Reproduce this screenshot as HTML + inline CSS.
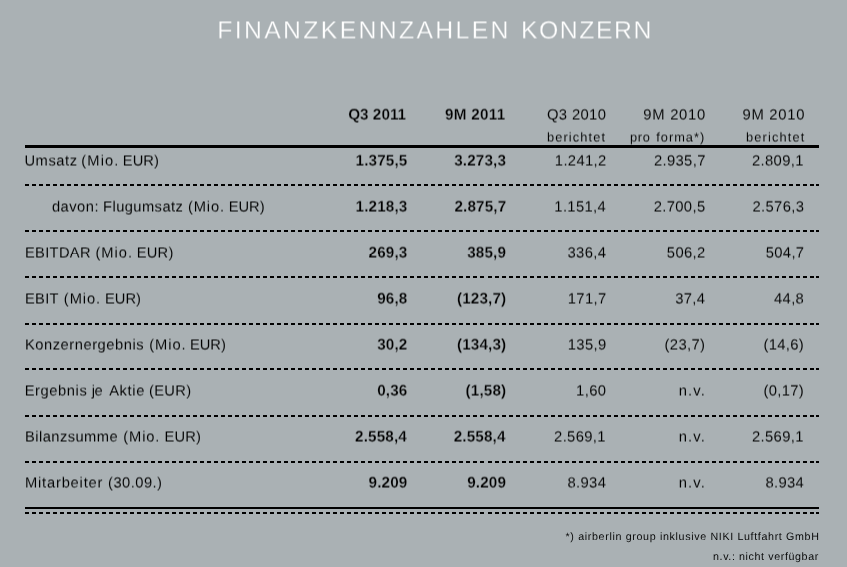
<!DOCTYPE html>
<html lang="de"><head><meta charset="utf-8"><title>Finanzkennzahlen Konzern</title>
<style>
html,body{margin:0;padding:0}
body{width:847px;height:567px;background:#aab1b4;position:relative;overflow:hidden;font-family:"Liberation Sans",sans-serif;color:#000000;text-rendering:geometricPrecision}
.t{position:absolute;white-space:nowrap;line-height:1;-webkit-text-stroke:0.06px #aab1b4}
.w{position:absolute;left:0;top:0;width:847px;height:567px;transform:translateY(-0.55px) rotateX(0.5deg)}
.ln{position:absolute;left:25px;width:794px;background:#000}
.dash{position:absolute;left:25px;width:794px;height:2px;background:linear-gradient(#000,#000) 791px 0/3px 2px no-repeat,repeating-linear-gradient(to right,#000 0,#000 4px,transparent 4px,transparent 7px) 0 0/459px 2px no-repeat,repeating-linear-gradient(to right,#000 0,#000 4px,transparent 4px,transparent 7px) 463px 0/326px 2px no-repeat}
</style></head><body>
<div class="ln" style="top:145px;height:3px"></div>
<div class="dash" style="top:184px"></div>
<div class="dash" style="top:230px"></div>
<div class="dash" style="top:276px"></div>
<div class="dash" style="top:323px"></div>
<div class="dash" style="top:368px"></div>
<div class="dash" style="top:415px"></div>
<div class="dash" style="top:461px"></div>
<div class="ln" style="top:507px;height:2px"></div>
<div class="dash" style="top:512px"></div>
<div class="w">
<div class="t" style="left:217.3px;top:20px;font-size:24.8px;letter-spacing:2.323px;-webkit-text-stroke-width:0.3px;color:#ffffff;">FINANZKENNZAHLEN</div>
<div class="t" style="left:520.9px;top:20px;font-size:24.8px;letter-spacing:1.558px;-webkit-text-stroke-width:0.3px;color:#ffffff;">KONZERN</div>
<div class="t" style="left:348.15px;top:108px;font-size:15.3px;letter-spacing:0.025px;font-weight:700;-webkit-text-stroke-width:0.25px;">Q3 2011</div>
<div class="t" style="left:445.1px;top:108px;font-size:15.3px;letter-spacing:0.242px;font-weight:700;-webkit-text-stroke-width:0.25px;">9M 2011</div>
<div class="t" style="left:546.95px;top:109px;font-size:14.8px;letter-spacing:0.367px;">Q3 2010</div>
<div class="t" style="left:643.35px;top:109px;font-size:14.8px;letter-spacing:0.708px;">9M 2010</div>
<div class="t" style="left:742.45px;top:109px;font-size:14.8px;letter-spacing:0.725px;">9M 2010</div>
<div class="t" style="left:546.95px;top:132px;font-size:12.8px;letter-spacing:1.131px;">berichtet</div>
<div class="t" style="left:629.95px;top:132px;font-size:12.8px;letter-spacing:0.725px;">pro</div>
<div class="t" style="left:656.15px;top:132px;font-size:12.8px;letter-spacing:1.033px;">forma*)</div>
<div class="t" style="left:746.05px;top:132px;font-size:12.8px;letter-spacing:1.156px;">berichtet</div>
<div class="t" style="left:24.45px;top:155px;font-size:14.7px;letter-spacing:0.57px;">Umsatz</div>
<div class="t" style="left:81.3px;top:155px;font-size:14.7px;letter-spacing:1.113px;">(Mio.</div>
<div class="t" style="left:122.85px;top:155px;font-size:14.7px;letter-spacing:0.017px;">EUR)</div>
<div class="t" style="left:355.58px;top:154px;font-size:15.3px;letter-spacing:0.12px;font-weight:700;-webkit-text-stroke-width:0.25px;">1.375,5</div>
<div class="t" style="left:454.18px;top:154px;font-size:15.3px;letter-spacing:0.12px;font-weight:700;-webkit-text-stroke-width:0.25px;">3.273,3</div>
<div class="t" style="left:554.8px;top:155px;font-size:14.8px;letter-spacing:0.35px;">1.241,2</div>
<div class="t" style="left:653.9px;top:155px;font-size:14.8px;letter-spacing:0.35px;">2.935,7</div>
<div class="t" style="left:751.95px;top:155px;font-size:14.8px;letter-spacing:0.35px;">2.809,1</div>
<div class="t" style="left:51.9px;top:201px;font-size:14.7px;letter-spacing:0.51px;">davon:</div>
<div class="t" style="left:103.05px;top:201px;font-size:14.7px;letter-spacing:0.433px;">Flugumsatz</div>
<div class="t" style="left:188.0px;top:201px;font-size:14.7px;letter-spacing:0.837px;">(Mio.</div>
<div class="t" style="left:228.75px;top:201px;font-size:14.7px;letter-spacing:-0.017px;">EUR)</div>
<div class="t" style="left:355.58px;top:200px;font-size:15.3px;letter-spacing:0.12px;font-weight:700;-webkit-text-stroke-width:0.25px;">1.218,3</div>
<div class="t" style="left:454.43px;top:200px;font-size:15.3px;letter-spacing:0.12px;font-weight:700;-webkit-text-stroke-width:0.25px;">2.875,7</div>
<div class="t" style="left:554.3px;top:201px;font-size:14.8px;letter-spacing:0.35px;">1.151,4</div>
<div class="t" style="left:653.65px;top:201px;font-size:14.8px;letter-spacing:0.35px;">2.700,5</div>
<div class="t" style="left:752.45px;top:201px;font-size:14.8px;letter-spacing:0.35px;">2.576,3</div>
<div class="t" style="left:24.95px;top:247px;font-size:14.7px;letter-spacing:0.325px;">EBITDAR</div>
<div class="t" style="left:95.5px;top:247px;font-size:14.7px;letter-spacing:0.962px;">(Mio.</div>
<div class="t" style="left:136.85px;top:247px;font-size:14.7px;letter-spacing:0.183px;">EUR)</div>
<div class="t" style="left:368.57px;top:246px;font-size:15.3px;letter-spacing:0.12px;font-weight:700;-webkit-text-stroke-width:0.25px;">269,3</div>
<div class="t" style="left:467.17px;top:246px;font-size:15.3px;letter-spacing:0.12px;font-weight:700;-webkit-text-stroke-width:0.25px;">385,9</div>
<div class="t" style="left:567.5px;top:247px;font-size:14.8px;letter-spacing:0.35px;">336,4</div>
<div class="t" style="left:666.85px;top:247px;font-size:14.8px;letter-spacing:0.35px;">506,2</div>
<div class="t" style="left:765.65px;top:247px;font-size:14.8px;letter-spacing:0.35px;">504,7</div>
<div class="t" style="left:24.95px;top:293px;font-size:14.7px;letter-spacing:0.3px;">EBIT</div>
<div class="t" style="left:63.8px;top:293px;font-size:14.7px;letter-spacing:0.938px;">(Mio.</div>
<div class="t" style="left:104.95px;top:293px;font-size:14.7px;letter-spacing:0.05px;">EUR)</div>
<div class="t" style="left:377.19px;top:292px;font-size:15.3px;letter-spacing:0.12px;font-weight:700;-webkit-text-stroke-width:0.25px;">96,8</div>
<div class="t" style="left:456.93px;top:292px;font-size:15.3px;letter-spacing:0.12px;font-weight:700;-webkit-text-stroke-width:0.25px;">(123,7)</div>
<div class="t" style="left:567.75px;top:293px;font-size:14.8px;letter-spacing:0.35px;">171,7</div>
<div class="t" style="left:675.2px;top:293px;font-size:14.8px;letter-spacing:0.35px;">37,4</div>
<div class="t" style="left:774.0px;top:293px;font-size:14.8px;letter-spacing:0.35px;">44,8</div>
<div class="t" style="left:24.95px;top:339px;font-size:14.7px;letter-spacing:0.546px;">Konzernergebnis</div>
<div class="t" style="left:149.2px;top:339px;font-size:14.7px;letter-spacing:0.963px;">(Mio.</div>
<div class="t" style="left:189.95px;top:339px;font-size:14.7px;letter-spacing:0.017px;">EUR)</div>
<div class="t" style="left:377.19px;top:338px;font-size:15.3px;letter-spacing:0.12px;font-weight:700;-webkit-text-stroke-width:0.25px;">30,2</div>
<div class="t" style="left:456.93px;top:338px;font-size:15.3px;letter-spacing:0.12px;font-weight:700;-webkit-text-stroke-width:0.25px;">(134,3)</div>
<div class="t" style="left:567.75px;top:339px;font-size:14.8px;letter-spacing:0.35px;">135,9</div>
<div class="t" style="left:664.6px;top:339px;font-size:14.8px;letter-spacing:0.35px;">(23,7)</div>
<div class="t" style="left:763.4px;top:339px;font-size:14.8px;letter-spacing:0.35px;">(14,6)</div>
<div class="t" style="left:24.7px;top:385px;font-size:14.7px;letter-spacing:0.586px;">Ergebnis</div>
<div class="t" style="left:91.65px;top:385px;font-size:14.7px;letter-spacing:-0.5px;">je</div>
<div class="t" style="left:109.2px;top:385px;font-size:14.7px;letter-spacing:0.625px;">Aktie</div>
<div class="t" style="left:149.0px;top:385px;font-size:14.7px;letter-spacing:0.312px;">(EUR)</div>
<div class="t" style="left:377.19px;top:384px;font-size:15.3px;letter-spacing:0.12px;font-weight:700;-webkit-text-stroke-width:0.25px;">0,36</div>
<div class="t" style="left:465.55px;top:384px;font-size:15.3px;letter-spacing:0.12px;font-weight:700;-webkit-text-stroke-width:0.25px;">(1,58)</div>
<div class="t" style="left:576.1px;top:385px;font-size:14.8px;letter-spacing:0.35px;">1,60</div>
<div class="t" style="left:678.7px;top:385px;font-size:14.8px;letter-spacing:1.167px;">n.v.</div>
<div class="t" style="left:763.4px;top:385px;font-size:14.8px;letter-spacing:0.35px;">(0,17)</div>
<div class="t" style="left:25.05px;top:431px;font-size:14.7px;letter-spacing:0.435px;">Bilanzsumme</div>
<div class="t" style="left:123.3px;top:431px;font-size:14.7px;letter-spacing:0.863px;">(Mio.</div>
<div class="t" style="left:164.55px;top:431px;font-size:14.7px;letter-spacing:0.183px;">EUR)</div>
<div class="t" style="left:355.08px;top:430px;font-size:15.3px;letter-spacing:0.12px;font-weight:700;-webkit-text-stroke-width:0.25px;">2.558,4</div>
<div class="t" style="left:453.68px;top:430px;font-size:15.3px;letter-spacing:0.12px;font-weight:700;-webkit-text-stroke-width:0.25px;">2.558,4</div>
<div class="t" style="left:554.05px;top:431px;font-size:14.8px;letter-spacing:0.35px;">2.569,1</div>
<div class="t" style="left:678.7px;top:431px;font-size:14.8px;letter-spacing:1.167px;">n.v.</div>
<div class="t" style="left:751.95px;top:431px;font-size:14.8px;letter-spacing:0.35px;">2.569,1</div>
<div class="t" style="left:24.95px;top:477px;font-size:14.7px;letter-spacing:0.81px;">Mitarbeiter</div>
<div class="t" style="left:108.1px;top:477px;font-size:14.7px;letter-spacing:0.464px;">(30.09.)</div>
<div class="t" style="left:368.57px;top:476px;font-size:15.3px;letter-spacing:0.12px;font-weight:700;-webkit-text-stroke-width:0.25px;">9.209</div>
<div class="t" style="left:467.17px;top:476px;font-size:15.3px;letter-spacing:0.12px;font-weight:700;-webkit-text-stroke-width:0.25px;">9.209</div>
<div class="t" style="left:567.5px;top:477px;font-size:14.8px;letter-spacing:0.35px;">8.934</div>
<div class="t" style="left:678.7px;top:477px;font-size:14.8px;letter-spacing:1.167px;">n.v.</div>
<div class="t" style="left:765.4px;top:477px;font-size:14.8px;letter-spacing:0.35px;">8.934</div>
</div>
<div class="t" style="left:565.55px;top:532px;font-size:10.7px;letter-spacing:0.652px;-webkit-text-stroke-width:0.04px;">*) airberlin group inklusive NIKI Luftfahrt GmbH</div>
<div class="t" style="left:713.05px;top:552px;font-size:10.7px;letter-spacing:0.608px;-webkit-text-stroke-width:0.04px;">n.v.: nicht verfügbar</div>
</body></html>
